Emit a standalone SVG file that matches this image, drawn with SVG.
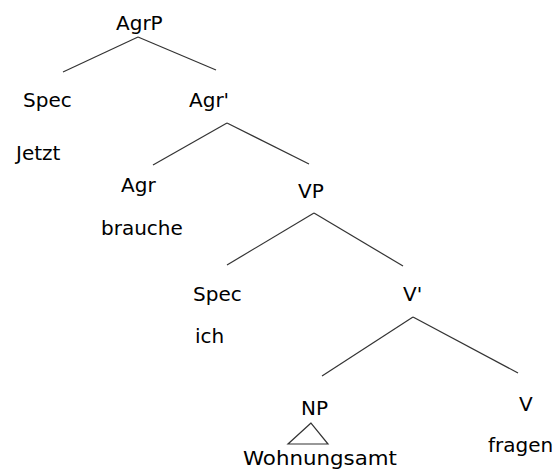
<svg xmlns="http://www.w3.org/2000/svg" width="554" height="472" viewBox="0 0 554 472">
<style>
text{font-family:"DejaVu Sans","Liberation Sans",sans-serif;font-size:20px;fill:#000}
.e{stroke:#333;stroke-width:1.2;fill:none}
</style>
<rect width="554" height="472" fill="#fff"/>
<g id="connectors">
<line class="e" x1="138" y1="37" x2="63" y2="72"/>
<line class="e" x1="138" y1="37" x2="216" y2="70"/>
<line class="e" x1="227" y1="123" x2="153" y2="165"/>
<line class="e" x1="227" y1="123" x2="309" y2="164"/>
<line class="e" x1="314" y1="213" x2="227" y2="265"/>
<line class="e" x1="314" y1="213" x2="403" y2="266"/>
<line class="e" x1="413" y1="317" x2="322" y2="376"/>
<line class="e" x1="413" y1="317" x2="518" y2="373"/>
</g>
<g id="AgrP"><text x="116" y="30">AgrP</text></g>
<g id="Spec1"><text x="23" y="107">Spec</text><text x="16" y="160">Jetzt</text></g>
<g id="AgrBar"><text x="189" y="107">Agr'</text></g>
<g id="Agr"><text x="121" y="192">Agr</text><text x="101" y="235">brauche</text></g>
<g id="VP"><text x="298" y="198">VP</text></g>
<g id="Spec2"><text x="193" y="301">Spec</text><text x="195" y="343">ich</text></g>
<g id="VBar"><text x="403" y="301">V'</text></g>
<g id="NP"><text x="301" y="415">NP</text><polygon class="e" points="311,423 288,444 328,444"/><text x="243" y="465" textLength="154" lengthAdjust="spacingAndGlyphs">Wohnungsamt</text></g>
<g id="V"><text x="519" y="411">V</text><text x="488" y="452">fragen</text></g>
</svg>
